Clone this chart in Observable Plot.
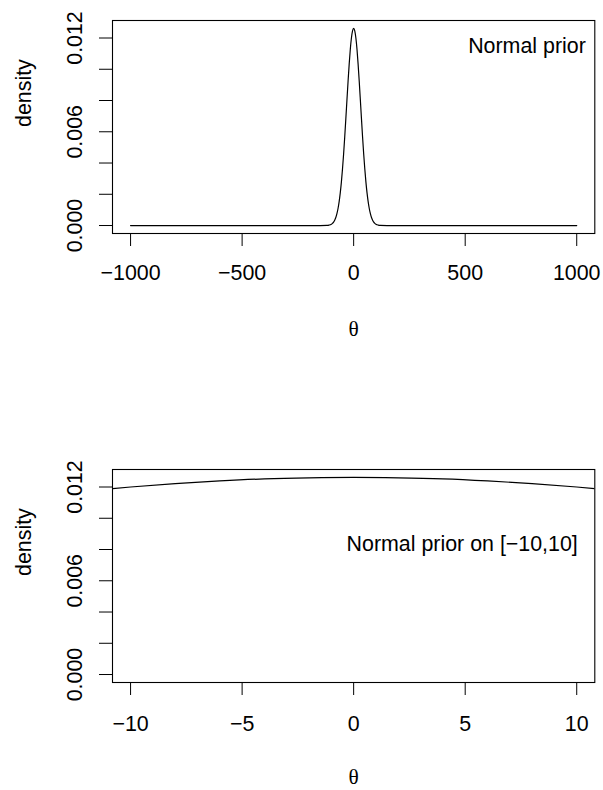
<!DOCTYPE html>
<html><head><meta charset="utf-8">
<script src="https://cdn.jsdelivr.net/npm/d3@7"></script>
<script src="https://cdn.jsdelivr.net/npm/@observablehq/plot@0.6"></script>
<style>
body{margin:0;background:#fff}
#chart{width:603px}
#chart svg{display:block}
</style>
</head><body><div id="chart"></div>
<script>
// Top panel: Normal prior density over θ in [-1000, 1000]
const thetaTop = [-1000, -500, -150, -120, -110, -100, -95, -90, -85, -80, -75, -70, -65, -60, -55, -50, -45, -40, -35, -30, -25, -20, -15, -10, -5, 0,
                  5, 10, 15, 20, 25, 30, 35, 40, 45, 50, 55, 60, 65, 70, 75, 80, 85, 90, 95, 100, 110, 120, 150, 500, 1000];
const densityTop = [0, 0, 0.0000002, 0.0000094, 0.00003, 0.000085, 0.00014, 0.00022, 0.00034, 0.00051, 0.00076, 0.00109, 0.00153, 0.00209, 0.00278, 0.00362, 0.00458, 0.00567, 0.00684, 0.00805, 0.00923, 0.01033, 0.01128, 0.01200, 0.01246, 0.01262,
                    0.01246, 0.01200, 0.01128, 0.01033, 0.00923, 0.00805, 0.00684, 0.00567, 0.00458, 0.00362, 0.00278, 0.00209, 0.00153, 0.00109, 0.00076, 0.00051, 0.00034, 0.00022, 0.00014, 0.000085, 0.00003, 0.0000094, 0.0000002, 0, 0];

// Bottom panel: same density zoomed to θ in [-10, 10]
const thetaBottom = [-10.8, -10, -8, -6, -4, -2, 0, 2, 4, 6, 8, 10, 10.8];
const densityBottom = [0.01190, 0.01200, 0.01222, 0.01239, 0.01252, 0.01259, 0.01262, 0.01259, 0.01252, 0.01239, 0.01222, 0.01200, 0.01190];

const xTicksTop = [-1000, -500, 0, 500, 1000];
const xTicksBottom = [-10, -5, 0, 5, 10];
const yTicks = [0, 0.002, 0.004, 0.006, 0.008, 0.010, 0.012];
const yTickLabels = [0, 0.006, 0.012];
const legendTop = "Normal prior";
const legendBottom = "Normal prior on [\u221210,10]";
const xLabel = "\u03b8";
const yLabel = "density";

const FONT = "'Liberation Sans', Arial, Helvetica, sans-serif";
const SERIF = "'Liberation Serif', 'DejaVu Serif', serif";
const FS = 21.4;

function panel({theta, density, xDomain, xTicks, marginTop, marginBottom, legend, legendDx, legendDy, xPad, thetaDy}) {
  const data = theta.map((t, i) => ({theta: t, density: density[i]}));
  return Plot.plot({
    width: 603,
    height: 395,
    marginLeft: 112,
    marginRight: 8.7,
    marginTop,
    marginBottom,
    style: {fontFamily: FONT, fontSize: FS + "px", background: "#fff", color: "#000"},
    x: {domain: xDomain},
    y: {domain: [-0.00051, 0.01312]},
    marks: [
      Plot.frame({stroke: "#000", strokeWidth: 1.1}),
      Plot.line(data, {x: "theta", y: "density", stroke: "#000", strokeWidth: 1.2, curve: "monotone-x", clip: true}),
      Plot.axisX({ticks: xTicks, tickSize: 13, tickPadding: xPad, fontSize: FS, stroke: "#000", fill: "#000", label: null, tickFormat: d => d3.format("d")(d).replace("-", "\u2212")}),
      Plot.axisY({ticks: yTicks, tickSize: 13, tickFormat: () => "", stroke: "#000", label: null}),
      Plot.axisY({ticks: yTickLabels, tickSize: 0, tickPadding: 30.5, tickRotate: -90, fontSize: FS, fill: "#000", label: null, tickFormat: d3.format(".3f")}),
      Plot.text([legend], {frameAnchor: "top-right", text: d => d, dx: legendDx, dy: legendDy, textAnchor: "end", lineAnchor: "middle", fontSize: FS, fill: "#000"}),
      Plot.text([yLabel], {frameAnchor: "left", text: d => d, rotate: -90, dx: -88.5, lineAnchor: "middle", fontSize: FS, fill: "#000"}),
      Plot.text([xLabel], {frameAnchor: "bottom", text: d => d, dy: thetaDy, lineAnchor: "middle", fontSize: FS, fontFamily: SERIF, fill: "#000"})
    ]
  });
}

const chart = document.getElementById("chart");
chart.append(panel({
  theta: thetaTop, density: densityTop, xDomain: [-1081, 1081], xTicks: xTicksTop,
  marginTop: 20, marginBottom: 162, legend: legendTop, legendDx: -9, legendDy: 26, xPad: 18.5, thetaDy: 96
}));
chart.append(panel({
  theta: thetaBottom, density: densityBottom, xDomain: [-10.81, 10.81], xTicks: xTicksBottom,
  marginTop: 74, marginBottom: 108, legend: legendBottom, legendDx: -17, legendDy: 75, xPad: 20, thetaDy: 95
}));
</script>
</body></html>
